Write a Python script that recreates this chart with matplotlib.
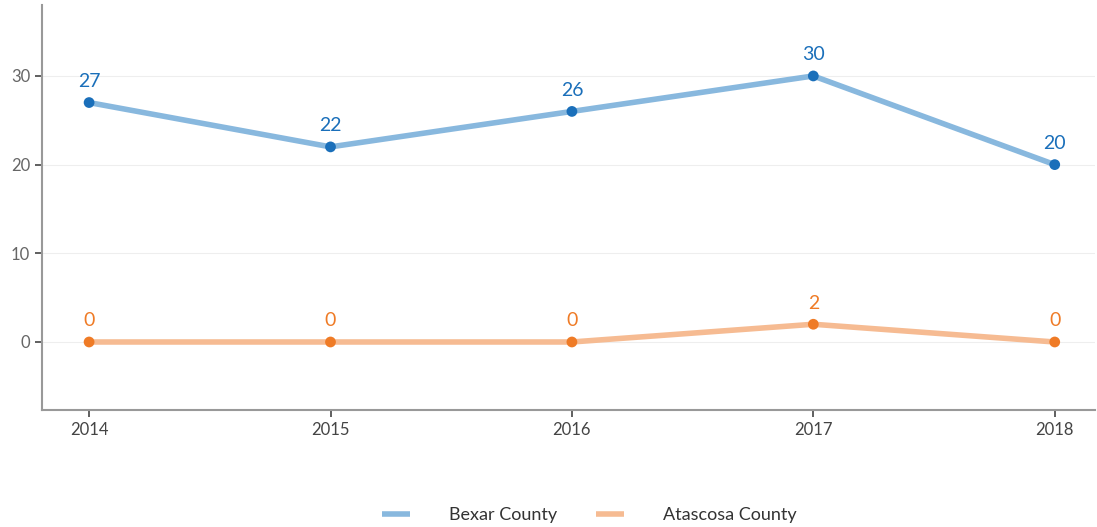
import matplotlib
matplotlib.use('Agg')
import matplotlib.pyplot as plt

# Data
years = [2014, 2015, 2016, 2017, 2018]
bexar = [27, 22, 26, 30, 20]
atascosa = [0, 0, 0, 2, 0]
series_names = ['Bexar County', 'Atascosa County']
y_ticks = [0, 10, 20, 30]

plt.rcParams['font.family'] = ['Lato', 'DejaVu Sans']

fig = plt.figure(figsize=(10.97, 5.27), dpi=100)
ax = fig.add_axes([0.0383, 0.222, 0.9597, 0.7685])

line_colors = ['#88b8de', '#f6bb92']
dot_colors = ['#1a6fba', '#ef7b26']

for vals, name, lc, dc in zip([bexar, atascosa], series_names, line_colors, dot_colors):
    ax.plot(years, vals, color=lc, lw=4.0, solid_capstyle='butt', label=name, zorder=2)
    ax.scatter(years, vals, color=dc, s=60, zorder=3, edgecolors='none')
    for x, y in zip(years, vals):
        ax.annotate(str(y), (x, y), xytext=(0, 9), textcoords='offset points',
                    ha='center', va='bottom', color=dc, fontsize=14)

ax.set_xlim(2013.805, 2018.166)
ax.set_ylim(-7.67, 38.0)
ax.set_xticks(years)
ax.set_yticks(y_ticks)
ax.grid(axis='y', color='#eeeeee', lw=0.8)
ax.set_axisbelow(True)

for s in ['top', 'right']:
    ax.spines[s].set_visible(False)
for s in ['left', 'bottom']:
    ax.spines[s].set_color('#999999')
    ax.spines[s].set_linewidth(1.5)
ax.tick_params(colors='#444444', labelsize=12, length=5, width=1.2)
ax.tick_params(axis='y', labelcolor='#666666')
ax.tick_params(axis='x', labelcolor='#444444')

leg = fig.legend(loc='lower center', bbox_to_anchor=(0.537, -0.024), ncol=2, frameon=False,
                 fontsize=13, handlelength=1.55, handletextpad=2.15, columnspacing=2.15)
for t in leg.get_texts():
    t.set_color('#333333')

fig.savefig('out.png', dpi=100)
